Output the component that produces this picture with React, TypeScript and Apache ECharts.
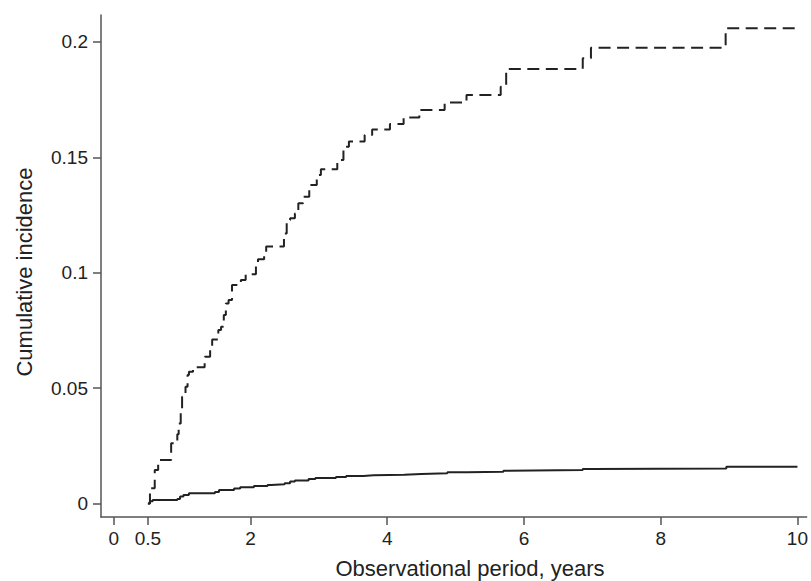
import React, { useEffect, useRef } from "react";
import * as echarts from "echarts";

// Dashed curve: x (years) where the cumulative incidence jumps, and the new level
const dashedX = [0.5, 0.53, 0.6, 0.65, 0.84, 0.93, 0.95, 0.98, 1.0, 1.05, 1.08, 1.1, 1.16, 1.33, 1.41, 1.44, 1.53, 1.57, 1.61, 1.64, 1.68, 1.73, 1.86, 1.93, 2.08, 2.11, 2.2, 2.23, 2.49, 2.53, 2.58, 2.65, 2.7, 2.77, 2.86, 2.97, 3.03, 3.27, 3.36, 3.44, 3.67, 3.78, 4.04, 4.24, 4.47, 4.84, 5.16, 5.66, 5.74, 6.86, 6.98, 8.95, 10.0];
const dashedY = [0, 0.0066, 0.0145, 0.0188, 0.0261, 0.03, 0.0347, 0.0405, 0.0463, 0.0506, 0.0557, 0.0571, 0.059, 0.0636, 0.0672, 0.0711, 0.0752, 0.0766, 0.0817, 0.0867, 0.0882, 0.0947, 0.0968, 0.0993, 0.1041, 0.1058, 0.109, 0.1113, 0.117, 0.1228, 0.1236, 0.1257, 0.1301, 0.1329, 0.138, 0.1423, 0.1448, 0.1488, 0.1546, 0.1568, 0.1597, 0.1621, 0.1644, 0.1673, 0.1705, 0.1737, 0.177, 0.1806, 0.1883, 0.1929, 0.1975, 0.2059, 0.2059];

// Solid curve
const solidX = [0.5, 0.53, 0.57, 0.93, 0.97, 1.02, 1.1, 1.48, 1.54, 1.76, 1.85, 2.05, 2.25, 2.3, 2.5, 2.58, 2.65, 2.85, 2.95, 3.25, 3.4, 3.65, 3.8, 4.25, 4.5, 4.88, 5.17, 5.7, 5.76, 6.86, 6.99, 8.96, 10.0];
const solidY = [0, 0.001, 0.0015, 0.002, 0.003, 0.0037, 0.0044, 0.005, 0.0058, 0.0065, 0.007, 0.0076, 0.008, 0.0083, 0.0088, 0.0095, 0.01, 0.0106, 0.011, 0.0115, 0.0119, 0.0122, 0.0125, 0.0128, 0.0131, 0.0135, 0.0138, 0.0142, 0.0145, 0.0149, 0.0152, 0.0159, 0.0159];

const xTicks = [0, 0.5, 2, 4, 6, 8, 10];
const yTicks = [0, 0.05, 0.1, 0.15, 0.2];

const xTitle = "Observational period, years";
const yTitle = "Cumulative incidence";

const FONT = "'Liberation Sans', Arial, sans-serif";

export default function App() {
  const ref = useRef<HTMLDivElement>(null);
  useEffect(() => {
    if (!ref.current) return;
    const chart = echarts.init(ref.current, null, { renderer: "svg" });
    const axisColor = "#555";
    const textColor = "#222";
    chart.setOption({
      animation: false,
      backgroundColor: "#fff",
      grid: { left: 101, right: 0, top: 15, bottom: 64 },
      xAxis: {
        type: "value",
        min: -0.186,
        max: 10.134,
        axisLine: { show: true, onZero: false, lineStyle: { color: axisColor, width: 1.5 } },
        axisTick: { show: true, length: 8, customValues: xTicks, lineStyle: { color: axisColor, width: 1.5 } },
        axisLabel: {
          customValues: xTicks,
          formatter: (v: number) => String(v),
          fontSize: 19,
          fontFamily: FONT,
          color: textColor,
          margin: 12,
        },
        splitLine: { show: false },
      },
      yAxis: {
        type: "value",
        min: -0.00585,
        max: 0.21166,
        axisLine: { show: true, onZero: false, lineStyle: { color: axisColor, width: 1.5 } },
        axisTick: { show: true, length: 8, customValues: yTicks, lineStyle: { color: axisColor, width: 1.5 } },
        axisLabel: {
          customValues: yTicks,
          formatter: (v: number) => String(v),
          fontSize: 19,
          fontFamily: FONT,
          color: textColor,
          margin: 13,
        },
        splitLine: { show: false },
      },
      series: [
        {
          type: "line",
          step: "end",
          showSymbol: false,
          symbol: "none",
          data: dashedX.map((x, i) => [x, dashedY[i]]),
          lineStyle: { color: "#222", width: 2, type: [12, 6.5] },
        },
        {
          type: "line",
          step: "end",
          showSymbol: false,
          symbol: "none",
          data: solidX.map((x, i) => [x, solidY[i]]),
          lineStyle: { color: "#222", width: 2 },
        },
      ],
      graphic: [
        {
          type: "text",
          x: 470,
          y: 568,
          style: {
            text: xTitle,
            fontSize: 22,
            fontFamily: FONT,
            fill: textColor,
            align: "center",
            verticalAlign: "middle",
          },
        },
        {
          type: "text",
          x: 24,
          y: 272,
          rotation: Math.PI / 2,
          style: {
            text: yTitle,
            fontSize: 22,
            fontFamily: FONT,
            fill: textColor,
            align: "center",
            verticalAlign: "middle",
          },
        },
      ],
    });
    return () => chart.dispose();
  }, []);
  return <div ref={ref} style={{ width: 811, height: 581, position: "absolute", left: 0, top: 0 }} />;
}
